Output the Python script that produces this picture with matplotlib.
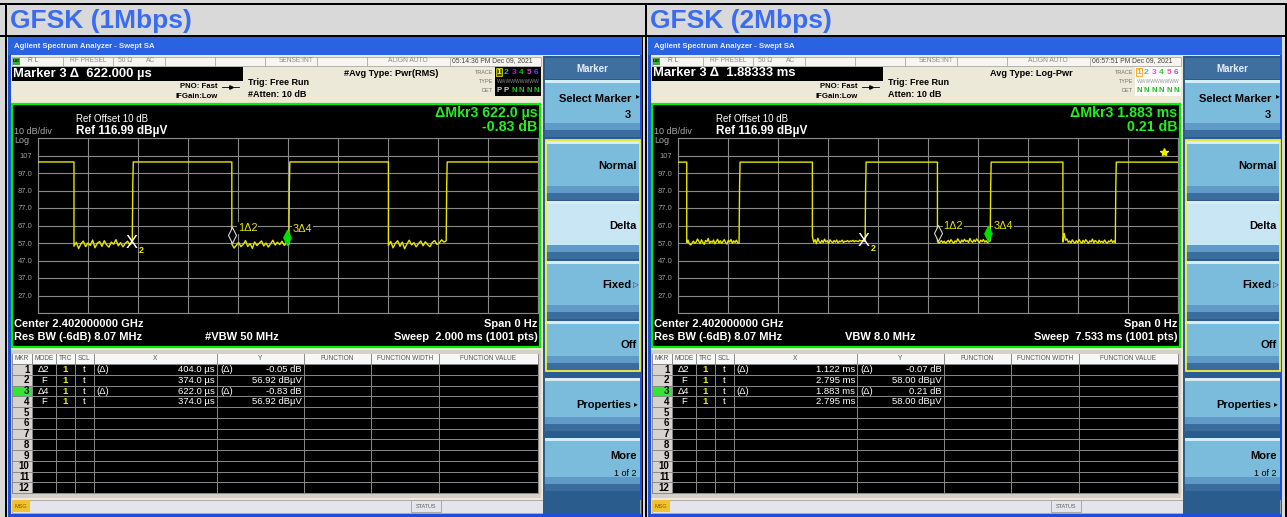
import numpy as np
import matplotlib.pyplot as plt
from matplotlib.patches import Rectangle
from matplotlib.markers import MarkerStyle
from matplotlib.path import Path

plt.rcParams['font.family'] = ['Liberation Sans', 'DejaVu Sans']

TITLES = ['GFSK (1Mbps)', 'GFSK (2Mbps)']
MARKER_READOUT = ['Marker 3 Δ  622.000 µs', 'Marker 3 Δ  1.88333 ms']
AVG_TYPE = ['#Avg Type: Pwr(RMS)', 'Avg Type: Log-Pwr']
ATTEN = ['#Atten: 10 dB', 'Atten: 10 dB']
TIMESTAMP = ['05:14:36 PM Dec 09, 2021', '06:57:51 PM Dec 09, 2021']
DELTA_TIME = ['ΔMkr3 622.0 µs', 'ΔMkr3 1.883 ms']
DELTA_LEVEL = ['-0.83 dB', '0.21 dB']
VBW = ['#VBW 50 MHz', 'VBW 8.0 MHz']
SWEEP_LABEL = ['Sweep  2.000 ms (1001 pts)', 'Sweep  7.533 ms (1001 pts)']
DET_LETTERS = [['P', 'P', 'N', 'N', 'N', 'N'], ['N', 'N', 'N', 'N', 'N', 'N']]

SWEEP_MS = [2.000, 7.533]
REF_LEVEL = 116.99           # dBuV, top graticule line
DB_PER_DIV = 10
Y_LABELS = ['', '107', '97.0', '87.0', '77.0', '67.0', '57.0', '47.0',
            '37.0', '27.0', '']

# burst edges (ms): fall, rise, fall, rise ...
EDGES_1M = [0.145, 0.378, 0.776, 1.004, 1.402, 1.633]
EDGES_2M = [0.136, 0.924, 2.028, 2.822, 3.911, 4.705, 5.800, 6.589]
HIGH_LEVEL = [103.3, 103.2]
RISE_STEP = [90.0, 89.5]

FLOOR_1M = [
    [55.2, 57.4, 53.8, 56.6, 58.1, 54.9, 57.0, 55.6, 58.7, 54.3, 56.9, 57.8,
     55.1, 58.3, 56.0, 54.6, 57.5, 56.3, 58.9, 55.4, 57.2, 54.8, 56.8, 58.0,
     55.9, 57.1],
    [56.4, 54.1, 55.7, 57.3, 54.9, 56.2, 58.4, 55.0, 56.7, 53.9, 57.6, 55.5,
     56.9, 58.2, 55.3, 57.0, 54.7, 56.5, 58.6, 55.8, 57.4, 56.1, 58.0, 55.6,
     57.2, 56.0],
    [55.6, 57.9, 54.2, 56.8, 58.3, 55.1, 57.5, 53.7, 56.4, 58.6, 55.9, 57.2,
     54.8, 56.6, 58.1, 55.4, 57.7, 56.0, 54.9, 57.3, 58.4, 56.2, 57.0, 58.8,
     57.5, 58.2],
]
FLOOR_2M = [
    [57.2, 58.6, 56.4, 55.9, 57.0, 58.1, 56.8, 57.5, 59.3, 57.9, 56.6, 58.8,
     57.3, 56.2, 58.4, 57.7, 59.6, 56.9, 58.0, 57.4, 58.7, 56.5, 57.8, 59.1,
     57.0, 58.3, 56.7, 57.9, 58.9, 57.2, 56.4, 58.5, 57.6, 59.0, 56.8, 58.2,
     57.3, 58.6, 57.1, 56.9],
    [60.8, 57.4, 58.9, 56.6, 59.7, 57.8, 56.9, 58.5, 57.2, 59.2, 57.6, 58.3,
     56.7, 58.8, 57.9, 57.1, 58.4, 57.5, 58.7, 57.0, 58.1, 57.7, 58.6, 57.3,
     58.0, 57.8, 58.4, 57.6, 58.2, 57.9, 58.5, 57.7, 58.3, 58.0, 57.8, 58.6,
     58.1, 58.4, 57.9, 58.0],
    [57.9, 56.8, 57.6, 58.3, 57.2, 58.0, 56.9, 57.7, 58.5, 57.3, 58.9, 57.8,
     56.7, 58.2, 57.5, 59.4, 58.1, 57.0, 58.7, 57.6, 59.1, 57.9, 58.4, 57.3,
     59.6, 58.0, 57.4, 58.8, 57.7, 59.3, 58.2, 57.1, 58.6, 57.8, 59.0, 57.5,
     58.3, 57.2, 57.9, 58.2],
    [57.5, 62.4, 58.6, 59.3, 57.4, 58.1, 57.0, 58.8, 57.6, 56.9, 58.3, 57.2,
     59.0, 57.7, 56.8, 58.5, 57.3, 58.9, 57.9, 56.7, 58.2, 57.6, 59.2, 57.1,
     58.4, 57.8, 56.9, 58.6, 57.4, 58.0, 57.2, 58.7, 57.5, 56.8, 58.1, 57.7,
     58.9, 57.3, 58.2, 57.0],
]
EDGES = [EDGES_1M, EDGES_2M]
FLOORS = [FLOOR_1M, FLOOR_2M]

# markers 1..4 (time in ms, level in dBuV)
MKR_T = [[0.778, 0.374, 0.996, 0.374], [3.917, 2.795, 4.678, 2.795]]
MKR_V = [[56.87, 56.92, 56.09, 56.92], [57.93, 58.00, 58.21, 58.00]]

TABLE_HEAD = ['MKR', 'MODE', 'TRC', 'SCL', 'X', 'Y', 'FUNCTION',
              'FUNCTION WIDTH', 'FUNCTION VALUE']
TABLE_MODE = ['Δ2', 'F', 'Δ4', 'F']
TABLE_X = [['404.0 µs', '374.0 µs', '622.0 µs', '374.0 µs'],
           ['1.122 ms', '2.795 ms', '1.883 ms', '2.795 ms']]
TABLE_Y = [['-0.05 dB', '56.92 dBµV', '-0.83 dB', '56.92 dBµV'],
           ['-0.07 dB', '58.00 dBµV', '0.21 dB', '58.00 dBµV']]
TABLE_REL = [True, False, True, False]
SOFTKEYS = ['Select Marker', 'Normal', 'Delta', 'Fixed', 'Off',
            'Properties', 'More']

W, H = 1287, 517
fig = plt.figure(figsize=(W / 100, H / 100), dpi=100)
bg = fig.add_axes([0, 0, 1, 1])
bg.set_xlim(0, W)
bg.set_ylim(H, 0)
bg.axis('off')


def box(x0, y0, x1, y1, fc, ec='none', lw=0, z=1):
    bg.add_patch(Rectangle((x0, y0), x1 - x0, y1 - y0, facecolor=fc,
                           edgecolor=ec, linewidth=lw, zorder=z))


def txt(x, y, s, size=6, color='black', ha='left', weight='normal', z=5):
    bg.text(x, y, s, fontsize=size, color=color, ha=ha, va='center',
            fontweight=weight, zorder=z)


def build_trace(edges, floors, high, step, sweep):
    dt = sweep / 1000
    t, v = [0.0], [high]
    for k, fl in enumerate(floors):
        fall, rise = edges[2 * k], edges[2 * k + 1]
        t += [fall] + list(np.linspace(fall, rise, len(fl))) + [rise + dt, rise + 2 * dt]
        v += [high] + list(fl) + [step, high]
    t.append(sweep)
    v.append(high)
    return t, v


TIP_DIAMOND = MarkerStyle(Path([(0, 0), (0.25, 0.5), (0, 1), (-0.25, 0.5), (0, 0)],
                               [1, 2, 2, 2, 79]))

box(0, 0, W, H, '#d9d9d9', z=0)


def draw_panel(i, dx):
    # header caption
    txt(dx + 10, 21, TITLES[i], 19, '#3a6cf2', weight='heavy')

    # window frame and title bar
    box(dx + 7.5, 37, dx + 641.5, H, '#1d50d6')
    box(dx + 8, 37, dx + 641.5, 55, '#2a63e0')
    txt(dx + 14, 47, 'Agilent Spectrum Analyzer - Swept SA', 5.6, '#e8eeff',
        weight='bold')
    box(dx + 11, 55, dx + 640, 513.5, '#ece9d8')

    # status row
    box(dx + 11.5, 56.5, dx + 541, 65.5, '#f6f5f0', ec='#a8a8a8', lw=0.6)
    for cx in [63.3, 113.3, 165, 215, 265, 316.7, 366.7, 450]:
        bg.plot([dx + cx] * 2, [56.5, 65.5], color='#a8a8a8', lw=0.6, zorder=2)
    box(dx + 12.5, 57.5, dx + 20, 64.5, '#2fb52f', z=2)
    txt(dx + 16.2, 61, 'LXI', 3.2, 'black', ha='center', weight='bold')
    txt(dx + 28, 61, 'R L', 4.8, '#707070')
    txt(dx + 88, 61, 'RF PRESEL', 4.8, '#8a8a8a', ha='center')
    txt(dx + 118, 61, '50 Ω', 4.8, '#8a8a8a')
    txt(dx + 146, 61, 'AC', 4.8, '#8a8a8a')
    txt(dx + 314, 61, 'SENSE:INT', 4.8, '#8a8a8a', ha='right')
    txt(dx + 408, 61, 'ALIGN AUTO', 4.8, '#8a8a8a', ha='center')
    txt(dx + 451.5, 61, TIMESTAMP[i], 4.9, '#404040')

    # marker readout and settings
    box(dx + 11.7, 66.5, dx + 243, 80.5, 'black', z=2)
    txt(dx + 13, 73.5, MARKER_READOUT[i], 9.4, 'white', weight='bold')
    txt(dx + 180, 86.5, 'PNO: Fast', 5.6, 'black', weight='bold')
    bg.plot([dx + 222, dx + 239], [86.5, 86.5], color='black', lw=0.6, zorder=3)
    bg.plot([dx + 230.5], [86.5], marker='>', ms=2.5, color='black', zorder=3)
    txt(dx + 176, 96, 'IFGain:Low', 5.6, 'black', weight='bold')
    txt(dx + 248, 82.5, 'Trig: Free Run', 6.5, 'black', weight='bold')
    txt(dx + 248, 94.5, ATTEN[i], 6.5, 'black', weight='bold')
    txt(dx + 391, 73, AVG_TYPE[i], 6.6, 'black', ha='center', weight='bold')

    # trace legend block
    dark = i == 0
    box(dx + 495, 67, dx + 541, 96, 'black' if dark else 'white', z=2)
    txt(dx + 493, 72, 'TRACE', 4.0, '#707070', ha='right')
    txt(dx + 493, 81.5, 'TYPE', 4.0, '#707070', ha='right')
    txt(dx + 493, 91, 'DET', 4.0, '#707070', ha='right')
    digit_x = [499, 506.5, 514, 521.5, 529, 536.5]
    colors = (['#ffff00', '#00c0c0', '#e000e0', '#00c800', '#c040c0', '#5050ff']
              if dark else
              ['#ff9c00', '#30b8ff', '#ff40ff', '#30c830', '#ff5090', '#8060ff'])
    box(dx + 496, 67.8, dx + 502, 76.2, '#505000' if dark else 'white',
        ec='#d8d800' if dark else '#ff9c00', lw=0.6, z=3)
    for k in range(6):
        txt(dx + digit_x[k], 72, str(k + 1), 6, colors[k], ha='center',
            weight='bold')
        det = DET_LETTERS[i][k]
        txt(dx + digit_x[k], 91, det, 5.6,
            '#d0d0d0' if det == 'P' else '#20c020', ha='center', weight='bold')
    txt(dx + 518, 81.5, 'WWWWWWWWW', 3.6, '#909090', ha='center')

    # graph window
    box(dx + 12, 103.5, dx + 540, 346.5, 'black', ec='#00ee00', lw=1.6, z=2)
    txt(dx + 76, 119.5, 'Ref Offset 10 dB', 7, 'white')
    txt(dx + 76, 131, 'Ref 116.99 dBµV', 8.5, 'white', weight='bold')
    txt(dx + 14, 132, '10 dB/div', 6.5, '#a8a8a8')
    txt(dx + 14, 140.5, 'Log', 6.5, '#a8a8a8')
    txt(dx + 537.5, 113, DELTA_TIME[i], 10.2, '#22ee22', ha='right', weight='bold')
    txt(dx + 537.5, 127, DELTA_LEVEL[i], 10.2, '#22ee22', ha='right', weight='bold')
    txt(dx + 14, 324, 'Center 2.402000000 GHz', 8, 'white', weight='bold')
    txt(dx + 14, 337, 'Res BW (-6dB) 8.07 MHz', 8, 'white', weight='bold')
    txt(dx + 205, 337, VBW[i], 8, 'white', weight='bold')
    txt(dx + 537.5, 324, 'Span 0 Hz', 8, 'white', ha='right', weight='bold')
    txt(dx + 537.5, 337, SWEEP_LABEL[i], 8, 'white', ha='right', weight='bold')

    # marker table
    cols = [12, 32, 56, 75, 94, 217, 304, 371, 439, 538]
    row_h = 10.75
    box(dx + 11, 350, dx + 541, 497.5, '#d4d0c8')
    box(dx + 12, 354, dx + 538, 493, 'black', z=2)
    box(dx + 12, 354, dx + 538, 364, '#f7f7f7', z=2)
    box(dx + 12, 364, dx + 32, 493, '#d6d3ce', z=2)
    box(dx + 12, 364 + 2 * row_h, dx + 31.5, 364 + 3 * row_h, '#33e633', z=2)
    for c in cols:
        bg.plot([dx + c] * 2, [354, 493], color='#8a8a8a', lw=0.7, zorder=3)
    for r in range(13):
        y = 364 + r * row_h
        bg.plot([dx + 12, dx + 538], [y, y], color='#8a8a8a', lw=0.7, zorder=3)
    for k, head in enumerate(TABLE_HEAD):
        txt(dx + (cols[k] + cols[k + 1]) / 2, 359, head, 4.7, '#555555',
            ha='center')
    for r in range(12):
        y = 369.6 + r * row_h
        txt(dx + 29.5, y, str(r + 1), 7, 'black', ha='right', weight='bold')
        if r < 4:
            txt(dx + 44, y, TABLE_MODE[r], 6.8, 'white', ha='center')
            txt(dx + 65.5, y, '1', 6.8, '#f0f000', ha='center', weight='bold')
            txt(dx + 84.5, y, 't', 6.8, 'white', ha='center')
            if TABLE_REL[r]:
                txt(dx + 96.5, y, '(Δ)', 6.8, 'white')
                txt(dx + 220.5, y, '(Δ)', 6.8, 'white')
            txt(dx + 215, y, TABLE_X[i][r], 6.8, 'white', ha='right')
            txt(dx + 302, y, TABLE_Y[i][r], 6.8, 'white', ha='right')

    # message bar
    box(dx + 11.5, 499.5, dx + 640, 512.5, '#e4e4ec', ec='#a0a0a0', lw=0.6)
    box(dx + 12, 500, dx + 29.5, 512, '#f2c12e', z=2)
    txt(dx + 20.7, 506, 'MSG', 4.0, '#806000', ha='center')
    box(dx + 411, 500, dx + 441, 512, '#e4e4ec', ec='#a0a0a0', lw=0.6, z=2)
    txt(dx + 426, 506, 'STATUS', 4.0, '#606060', ha='center')

    # softkey panel
    box(dx + 543, 56, dx + 640, 513.5, '#2b5c8e')
    box(dx + 545, 58, dx + 640, 79, '#3f6f9f')
    txt(dx + 592, 69, 'Marker', 7, '#e6eef6', ha='center', weight='bold')
    keys = [(80, 137), (141, 200), (201, 259), (261, 319), (321, 370),
            (378, 431), (438, 491)]
    for (t, b), lab in zip(keys, SOFTKEYS):
        box(dx + 545, t, dx + 640, b, '#c9e6f4' if lab == 'Delta' else '#7bbcdd')
        box(dx + 545, t, dx + 640, t + 3, '#d6edf8')
        box(dx + 545, b - 14, dx + 640, b - 7, '#5f9bc6')
        box(dx + 545, b - 7, dx + 640, b, '#3a6d9e')
    box(dx + 545.5, 139.5, dx + 639.5, 371, 'none', ec='#f2f23a', lw=1.3, z=3)
    txt(dx + 631, 98.5, 'Select Marker', 8, 'black', ha='right', weight='bold')
    txt(dx + 637.5, 97, '▸', 5.5, 'black', ha='center')
    txt(dx + 631, 115, '3', 8, 'black', ha='right', weight='bold')
    txt(dx + 636.5, 166, 'Normal', 8, 'black', ha='right', weight='bold')
    txt(dx + 636.5, 226, 'Delta', 8, 'black', ha='right', weight='bold')
    txt(dx + 631, 285.5, 'Fixed', 8, 'black', ha='right', weight='bold')
    txt(dx + 635.5, 285.5, '▷', 5.5, '#404040', ha='center')
    txt(dx + 636.5, 345, 'Off', 8, 'black', ha='right', weight='bold')
    txt(dx + 631, 405, 'Properties', 8, 'black', ha='right', weight='bold')
    txt(dx + 635.5, 405, '▸', 5.5, 'black', ha='center')
    txt(dx + 636.5, 456, 'More', 8, 'black', ha='right', weight='bold')
    txt(dx + 636.5, 473, '1 of 2', 6.5, 'black', ha='right')

    # the zero-span trace itself
    x0, x1, y0, y1 = dx + 37.7, dx + 538, 138, 313
    ax = fig.add_axes([x0 / W, 1 - y1 / H, (x1 - x0) / W, (y1 - y0) / H])
    ax.set_facecolor('black')
    sweep = SWEEP_MS[i]
    ax.set_xlim(0, sweep)
    ax.set_ylim(REF_LEVEL - 10 * DB_PER_DIV, REF_LEVEL)
    ax.set_xticks(np.linspace(0, sweep, 11))
    ax.set_xticklabels([])
    ax.set_yticks([REF_LEVEL - k * DB_PER_DIV for k in range(11)])
    ax.set_yticklabels(Y_LABELS)
    ax.tick_params(length=0, labelsize=5.5, labelcolor='#a0a0a0', pad=4)
    ax.grid(color='#8a8a8a', lw=0.8)
    for sp in ax.spines.values():
        sp.set_color('#8a8a8a')
        sp.set_linewidth(0.8)

    t, v = build_trace(EDGES[i], FLOORS[i], HIGH_LEVEL[i], RISE_STEP[i], sweep)
    ax.plot(t, v, color='#e6e600', lw=1.0, zorder=3)

    mt, mv = MKR_T[i], MKR_V[i]
    ax.plot([mt[0]], [mv[0]], marker=TIP_DIAMOND, ms=23, mfc='black',
            mec='#d8d8d8', mew=0.8, ls='none', zorder=5)
    ax.plot([mt[2]], [mv[2]], marker=TIP_DIAMOND, ms=22, mfc='#00e000',
            mec='#00e000', mew=0.8, ls='none', zorder=5)
    ax.text(mt[1], mv[1], 'X', fontsize=13, color='white', ha='center',
            va='center', zorder=6)
    ax.annotate('2', (mt[1], mv[1]), xytext=(7, -5), textcoords='offset points',
                fontsize=6.5, color='#f0f000', fontweight='bold', ha='center',
                va='center', zorder=6)
    for m, lab in [(0, '1Δ2'), (2, '3Δ4')]:
        ax.annotate(lab, (mt[m], mv[m]), xytext=(4, 11),
                    textcoords='offset points', fontsize=7.8, color='#e8e800',
                    ha='left', va='center', zorder=6,
                    bbox=dict(facecolor='black', edgecolor='none', pad=0.6))
    if i == 1:
        ax.plot([0.973], [0.922], marker='*', ms=6, color='#f0f000',
                transform=ax.transAxes, zorder=6)


for i in range(2):
    draw_panel(i, 640 * i)

# outer separators
box(0, 3, W, 5, 'black', z=8)
box(0, 34.5, W, 36.5, 'black', z=8)
box(5, 3, 6.7, H, 'black', z=8)
box(645, 3, 647.3, H, 'black', z=8)
box(642, 36.5, 643, H, 'black', z=8)
box(1284.5, 3, W, H, 'black', z=8)

fig.savefig('out.png', dpi=100)
plt.close(fig)
